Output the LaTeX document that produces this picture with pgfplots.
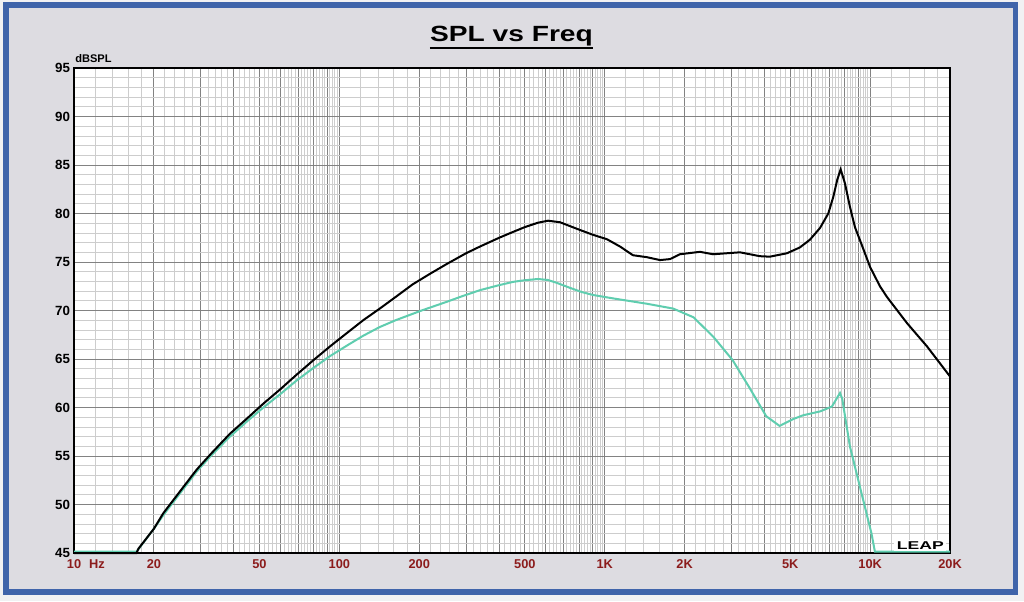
\documentclass[border=0pt]{standalone}
\usepackage{fontspec}
\setmainfont{Liberation Sans}
\usepackage{pgfplots}
\pgfplotsset{compat=1.18}
\definecolor{frameblue}{RGB}{63,100,170}
\definecolor{bggrey}{RGB}{221,220,225}
\definecolor{ticked}{RGB}{140,28,28}
\definecolor{teal2}{RGB}{95,205,175}
\definecolor{gmaj}{RGB}{130,130,130}
\definecolor{gmin}{RGB}{205,205,205}
\begin{document}
\begin{tikzpicture}
\fill[white!60!bggrey] (0,0) rectangle (768pt,-450.75pt);
\draw[frameblue, line width=4.3pt, fill=bggrey] (4.3pt,-3.6pt) rectangle (761.6pt,-444pt);
\begin{axis}[
  at={(55.5pt,-414.75pt)}, anchor=south west,
  scale only axis, width=657pt, height=363.75pt,
  xmode=log, log basis x=10,
  xmin=10, xmax=20000, ymin=45, ymax=95,
  clip=false,
  axis background/.style={fill=white},
  axis line style={line width=1.5pt, black},
  major tick length=0pt, minor tick length=0pt,
  grid=both,
  major grid style={line width=0.6pt, color=gmaj},
  minor grid style={line width=0.6pt, color=gmin},
  xtick={10,20,30,40,50,60,70,80,90,100,200,300,400,500,600,700,800,900,1000,2000,3000,4000,5000,6000,7000,8000,9000,10000,20000},
  xticklabels={10,20,{},{},50,{},{},{},{},100,200,{},{},500,{},{},{},{},1K,2K,{},{},5K,{},{},{},{},10K,20K},
  minor xtick={12,14,16,18,22,24,26,28,32,34,36,38,42,44,46,48,52,54,56,58,62,64,66,68,72,74,76,78,82,84,86,88,92,94,96,98,
   120,140,160,180,220,240,260,280,320,340,360,380,420,440,460,480,520,540,560,580,620,640,660,680,720,740,760,780,820,840,860,880,920,940,960,980,
   1200,1400,1600,1800,2200,2400,2600,2800,3200,3400,3600,3800,4200,4400,4600,4800,5200,5400,5600,5800,6200,6400,6600,6800,7200,7400,7600,7800,8200,8400,8600,8800,9200,9400,9600,9800,
   12000,14000,16000,18000},
  ytick={45,50,55,60,65,70,75,80,85,90,95},
  yticklabels={45,50,55,60,65,70,75,80,85,90,95},
  minor y tick num=4,
  x tick label style={font=\bfseries\fontsize{9.6}{9.6}\selectfont, text=ticked, yshift=-1.5pt},
  y tick label style={font=\bfseries\fontsize{10}{10}\selectfont, text=black, xshift=0.5pt},
]
\addplot[teal2, line width=1.5pt] coordinates {
 (10,45.15) (17.2,45.15) (17.5,45.4) (20,47.5) (21.7,48.9) (25,51.1) (29,53.4) (33,55.1) (38.7,57.0) (45,58.6)
 (51.7,60.0) (60,61.4) (69.1,62.8) (80,64.1) (92.2,65.3) (107,66.4) (123,67.4) (142,68.3) (163,69.0) (204,70.0)
 (254,70.9) (292,71.5) (339,72.1) (398,72.6) (451,72.95) (493,73.1) (560,73.25) (610,73.15) (660,72.85) (737,72.35)
 (820,71.9) (904,71.6) (1074,71.25) (1440,70.7) (1810,70.2) (2160,69.3)
 (2564,67.3) (3030,64.9) (3500,62.1) (4060,59.1) (4560,58.1) (5120,58.8) (5590,59.2) (6480,59.6) (7180,60.1)
 (7700,61.5) (7850,60.9) (8390,56.0) (10120,47.0) (10420,45.15) (20000,45.15)
};
\addplot[black, line width=1.5pt] coordinates {
 (10,45) (17.2,45) (17.5,45.45) (20,47.5) (21.7,49.1) (25,51.3) (29,53.6) (33,55.3) (38.7,57.3) (45,58.9)
 (51.7,60.4) (60,61.9) (69.1,63.4) (80,64.9) (92.2,66.3) (107,67.7) (123,69.0) (142,70.2) (163,71.4) (189,72.7)
 (220,73.8) (254,74.8) (300,75.9) (339,76.6) (400,77.5) (451,78.1) (500,78.6) (560,79.05) (611,79.26) (678,79.1)
 (807,78.3) (904,77.8) (1019,77.35) (1141,76.6)
 (1277,75.7) (1440,75.5) (1615,75.2) (1762,75.3) (1920,75.8) (2285,76.05) (2559,75.8) (3231,76.0) (3843,75.6)
 (4190,75.55) (4856,75.9) (5434,76.5) (5931,77.3) (6470,78.5) (6955,80.0) (7262,81.7) (7522,83.5) (7744,84.55)
 (8039,83.1) (8391,80.7) (8764,78.6) (9290,76.8) (9990,74.5) (10890,72.5) (11570,71.4) (13770,68.7) (16380,66.3) (20000,63.2)
};
\end{axis}
\node[anchor=base, inner sep=0pt] (t) at (383.6pt,-31.3pt) {\scalebox{1.28}[1]{\bfseries\fontsize{16.5}{16.5}\selectfont SPL vs Freq}};
\draw[line width=1.5pt] ([yshift=-1pt]t.south west) -- ([yshift=-1pt]t.south east);
\node[anchor=base west, inner sep=0pt] at (56.25pt,-47pt) {\bfseries\fontsize{8.3}{8.3}\selectfont dBSPL};
\node[anchor=base, inner sep=0pt, text=ticked] at (72.75pt,-426.3pt) {\bfseries\fontsize{9.6}{9.6}\selectfont Hz};
\node[anchor=base east, fill=white, inner xsep=2pt, inner ysep=1.5pt] at (710pt,-412pt) {\scalebox{1.55}[1]{\bfseries\fontsize{8.5}{8.5}\selectfont LEAP}};
\end{tikzpicture}
\end{document}
